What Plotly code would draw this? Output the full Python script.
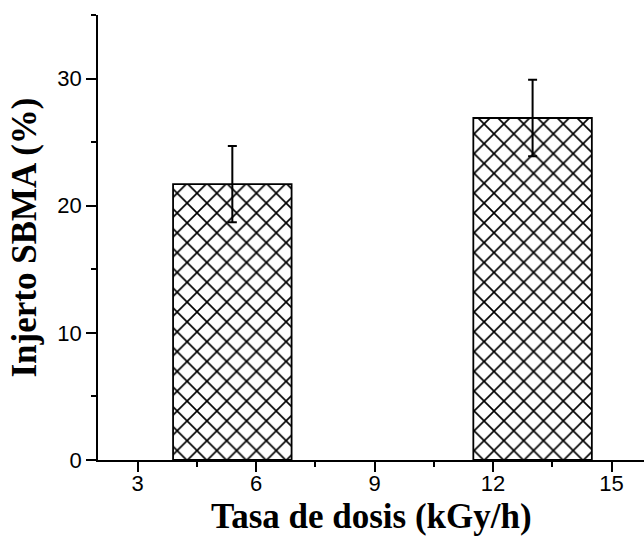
import plotly.graph_objects as go

# Dose rate (kGy/h) and SBMA grafting (%) with standard deviation
dose_rate = [5.4, 13.0]
grafting = [21.7, 26.9]
grafting_err = [3.0, 3.0]
x_ticks = [3, 6, 9, 12, 15]
y_ticks = [0, 10, 20, 30]
x_title = "Tasa de dosis (kGy/h)"
y_title = "Injerto SBMA (%)"

fig = go.Figure()
fig.add_trace(go.Bar(
    x=dose_rate,
    y=grafting,
    width=3,
    marker=dict(
        color="white",
        line=dict(color="black", width=1.8),
        pattern=dict(shape="x", fgcolor="black", bgcolor="white",
                     size=14, solidity=0.22, fgopacity=1),
    ),
    error_y=dict(type="data", array=grafting_err, color="black",
                 thickness=2, width=4.5),
    showlegend=False,
))

tick_font = dict(family="Liberation Sans, Arial", size=22, color="black")
title_font = dict(family="Liberation Serif, Times New Roman", size=35, color="black")

fig.update_layout(
    width=644, height=538, autosize=False,
    margin=dict(l=98, r=0, t=15, b=78),
    plot_bgcolor="white", paper_bgcolor="white",
    xaxis=dict(
        range=[2, 15.82], tickmode="array", tickvals=x_ticks,
        ticks="outside", ticklen=10, tickwidth=1.5, tickcolor="black",
        minor=dict(tickmode="linear", tick0=3, dtick=1.5, ticks="outside",
                   ticklen=5, tickwidth=1.5, tickcolor="black"),
        showline=True, linecolor="black", linewidth=1.5,
        showgrid=False, zeroline=False, tickfont=tick_font,
        ticklabelstandoff=-7,
    ),
    yaxis=dict(
        range=[0, 35], tickmode="array", tickvals=y_ticks,
        ticks="outside", ticklen=10, tickwidth=1.5, tickcolor="black",
        minor=dict(tickmode="linear", tick0=0, dtick=5, ticks="outside",
                   ticklen=5, tickwidth=1.5, tickcolor="black"),
        showline=True, linecolor="black", linewidth=1.5,
        showgrid=False, zeroline=False, tickfont=tick_font,
    ),
    annotations=[
        dict(text=f"<b>{x_title}</b>", font=title_font, showarrow=False,
             xref="paper", yref="paper", x=0.5, y=0,
             xanchor="center", yanchor="middle", yshift=-56),
        dict(text=f"<b>{y_title}</b>", font=title_font, showarrow=False,
             textangle=-90, xref="paper", yref="paper", x=0, y=0.5,
             xanchor="center", yanchor="middle", xshift=-74),
    ],
)

fig.write_html("out.html")
